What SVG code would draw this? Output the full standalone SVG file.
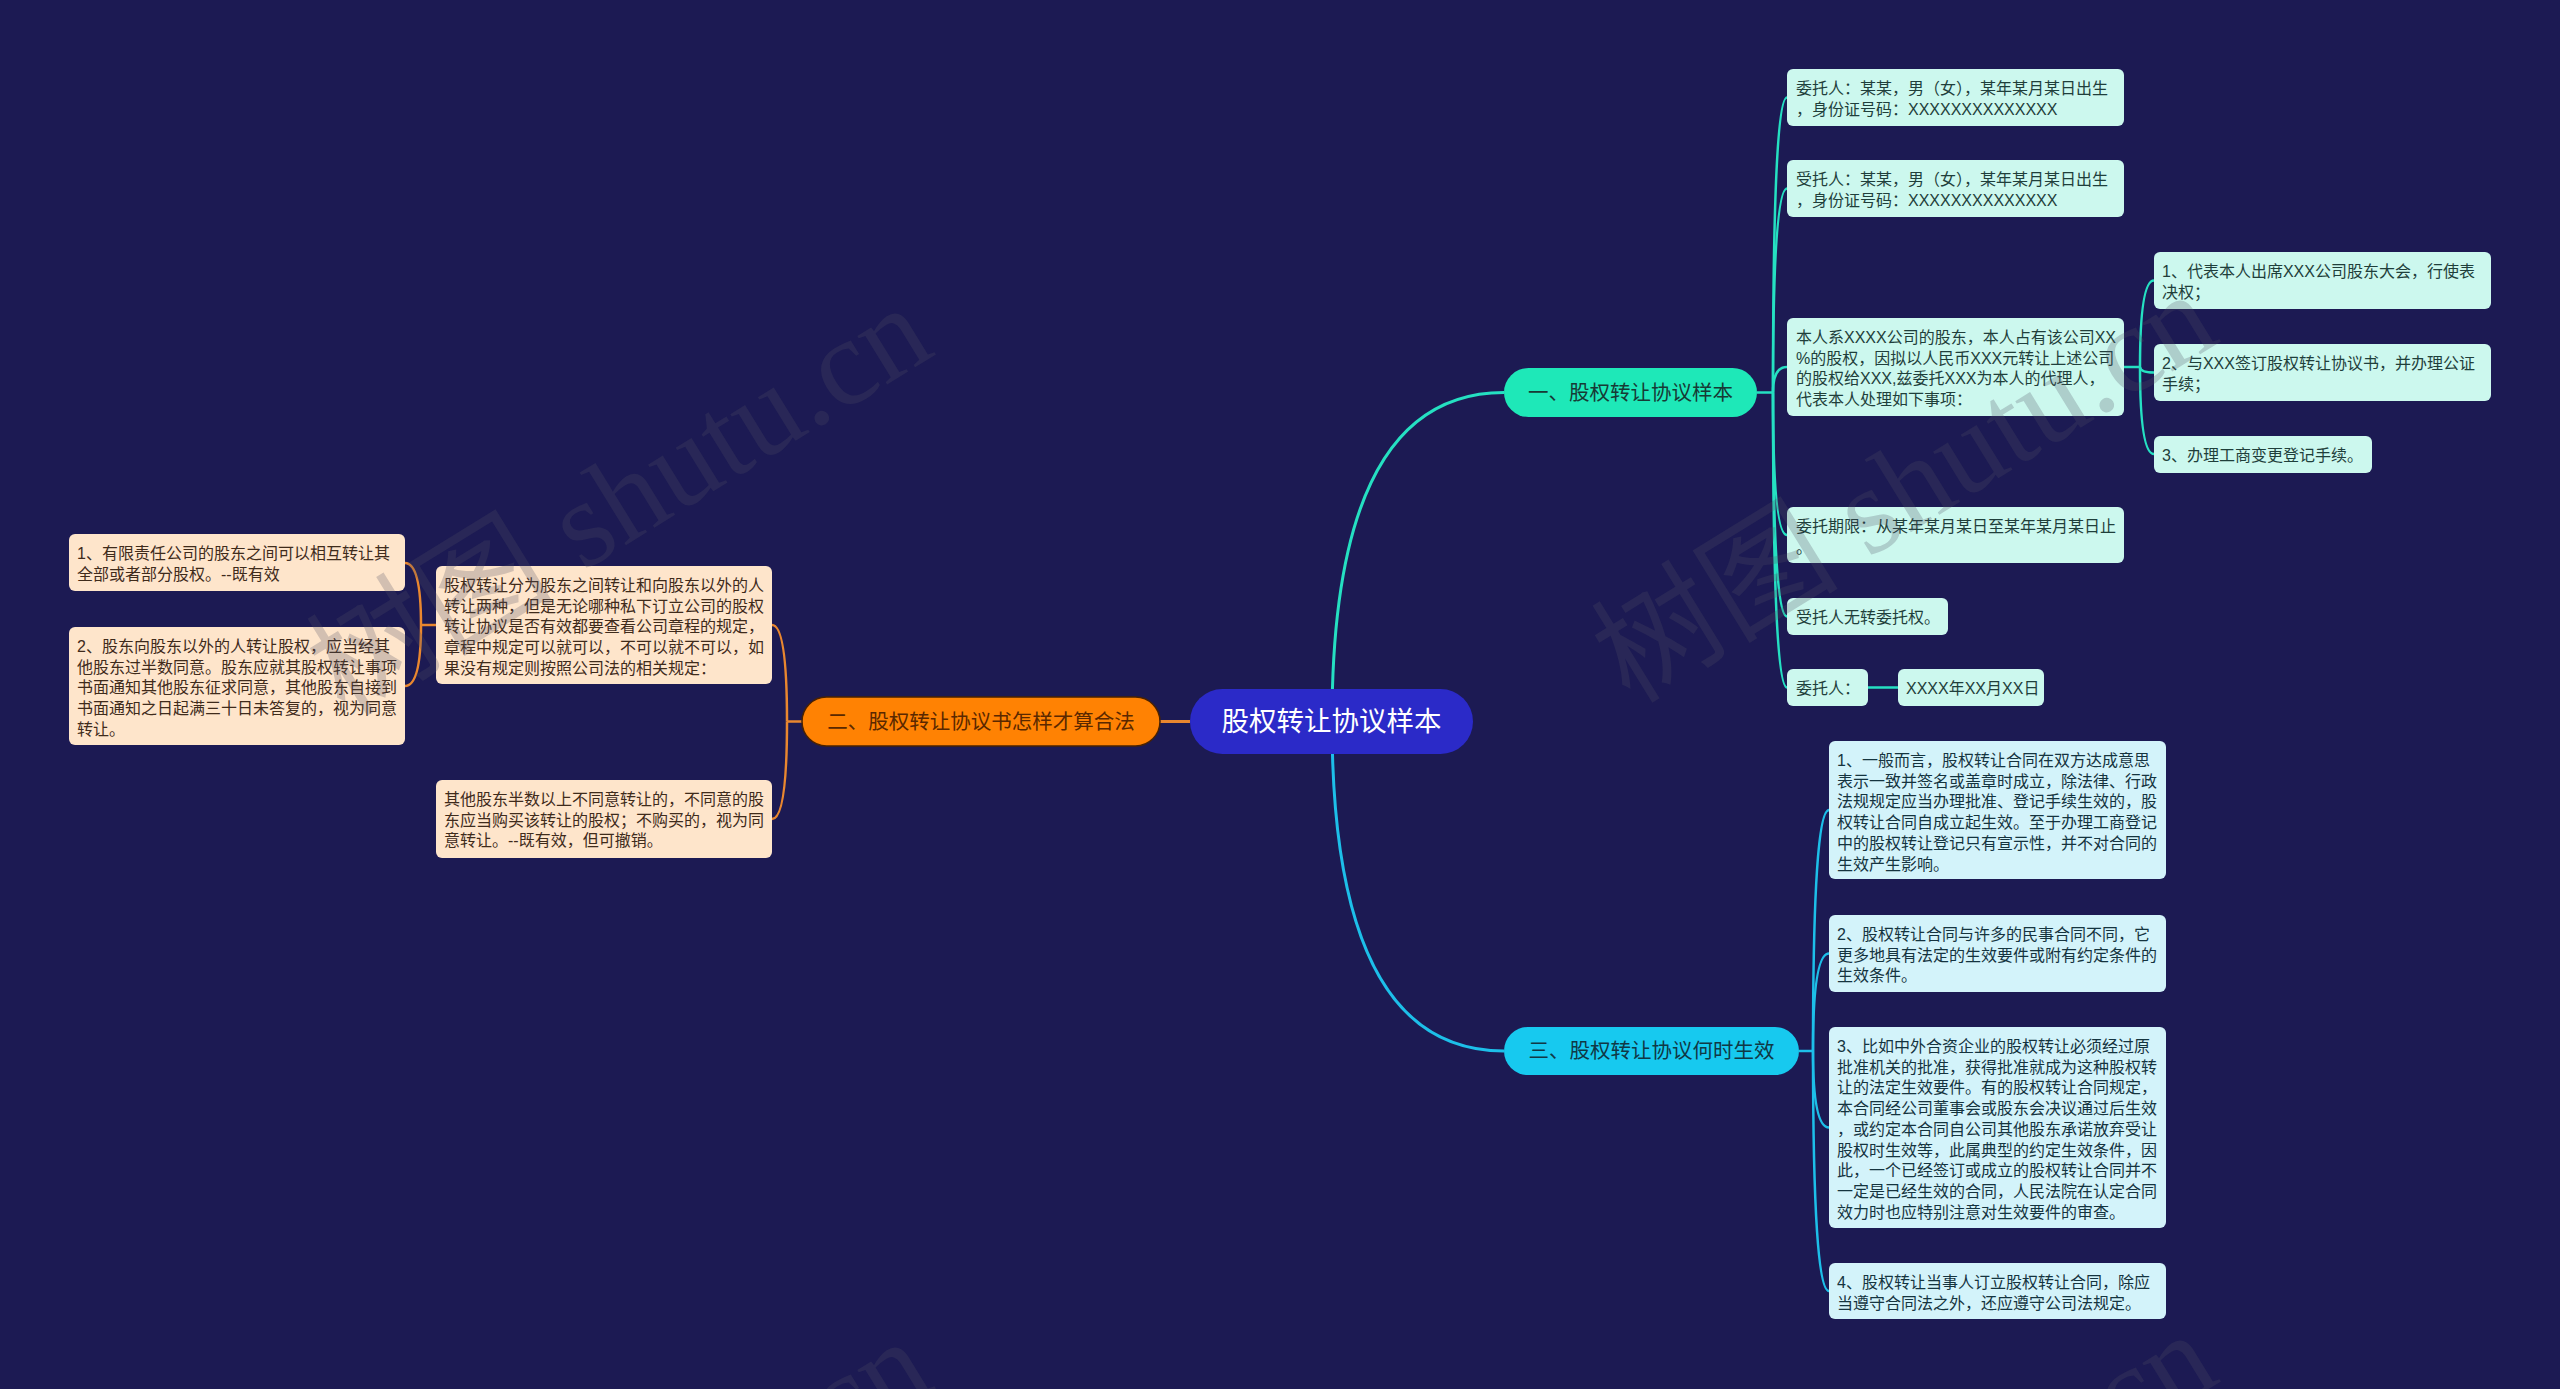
<svg xmlns="http://www.w3.org/2000/svg" width="2560" height="1389" viewBox="0 0 2560 1389">
<style>
.t{font-family:"Liberation Sans","Noto Sans CJK SC",sans-serif;font-size:16px}
.lg{fill:#ccf8ee}.lgt{fill:#1f3f3b}
.lc{fill:#d3f3fa}.lct{fill:#15343f}
.lo{fill:#fee5cb}.lot{fill:#3f2b1b}
.c1{fill:none;stroke:#25e0c2;stroke-width:2.5}
.c3{fill:none;stroke:#1dbfe9;stroke-width:2.5}
.c2{fill:none;stroke:#e9872f;stroke-width:2.5}
.b{font-family:"Liberation Sans","Noto Sans CJK SC",sans-serif;font-size:20.5px;text-anchor:middle}
.wm{font-family:"Liberation Serif","Noto Sans CJK SC",serif;font-size:124px;fill:#505062;fill-opacity:0.25}
</style>
<rect width="2560" height="1389" fill="#1c1a53"/>
<g id="connectors">
<path class="c1" style="stroke-width:3" d="M1332,721.5 Q1332,392.5 1504,392.5"/>
<path class="c3" style="stroke-width:3" d="M1332,721.5 Q1332,1051 1504,1051"/>
<path class="c2" style="stroke-width:3" d="M1190,721.5 H1160"/>
<path class="c1" d="M1757,392.5 H1773"/>
<path class="c1" d="M1773,392.5 Q1773,97.5 1787,97.5"/>
<path class="c1" d="M1773,392.5 Q1773,188.5 1787,188.5"/>
<path class="c1" d="M1773,392.5 Q1773,367 1787,367"/>
<path class="c1" d="M1773,392.5 Q1773,535 1787,535"/>
<path class="c1" d="M1773,392.5 Q1773,616.5 1787,616.5"/>
<path class="c1" d="M1773,392.5 Q1773,687.5 1787,687.5"/>
<path class="c1" d="M2124,367 H2140"/>
<path class="c1" d="M2140,367 Q2140,280.5 2154,280.5"/>
<path class="c1" d="M2140,367 Q2140,372.5 2154,372.5"/>
<path class="c1" d="M2140,367 Q2140,454 2154,454"/>
<path class="c1" d="M1868,687.5 H1898"/>
<path class="c3" d="M1799,1051 H1813"/>
<path class="c3" d="M1813,1051 Q1813,810 1829,810"/>
<path class="c3" d="M1813,1051 Q1813,953.5 1829,953.5"/>
<path class="c3" d="M1813,1051 Q1813,1127.5 1829,1127.5"/>
<path class="c3" d="M1813,1051 Q1813,1291 1829,1291"/>
<path class="c2" d="M802,721.5 H787"/>
<path class="c2" d="M787,721.5 Q787,625 772,625"/>
<path class="c2" d="M787,721.5 Q787,819 772,819"/>
<path class="c2" d="M436,625 H421"/>
<path class="c2" d="M421,625 Q421,563 405,563"/>
<path class="c2" d="M421,625 Q421,686 405,686"/>
</g>
<g id="root">
<rect x="1190" y="689" width="283" height="65" rx="32.5" fill="#2b2ac8"/>
<text x="1331.5" y="731" style="font-family:'Noto Sans CJK SC',sans-serif;font-size:27.5px;text-anchor:middle" fill="#ffffff">股权转让协议样本</text>
</g>
<g id="branch1">
<rect x="1504" y="368" width="253" height="49" rx="24.5" fill="#1ee8b8"/>
<text class="b" x="1630.5" y="399.5" fill="#173a35">一、股权转让协议样本</text>
</g>
<g id="branch2">
<rect x="802" y="697" width="358" height="49" rx="24.5" fill="#ff8203" stroke="#4a2200" stroke-width="1.5"/>
<text class="b" x="981" y="728.5" fill="#5a2800">二、股权转让协议书怎样才算合法</text>
</g>
<g id="branch3">
<rect x="1504" y="1027" width="295" height="48" rx="24" fill="#17c9ef"/>
<text class="b" x="1651.5" y="1058" fill="#103845">三、股权转让协议何时生效</text>
</g>
<g id="r1">
<rect class="lg" x="1787" y="69" width="337" height="57" rx="6"/>
<text class="t lgt"><tspan x="1796" y="94">委托人：某某，男（女），某年某月某日出生</tspan><tspan x="1796" y="114.7">，身份证号码：XXXXXXXXXXXXXX</tspan></text>
</g>
<g id="r2">
<rect class="lg" x="1787" y="160" width="337" height="57" rx="6"/>
<text class="t lgt"><tspan x="1796" y="185">受托人：某某，男（女），某年某月某日出生</tspan><tspan x="1796" y="205.7">，身份证号码：XXXXXXXXXXXXXX</tspan></text>
</g>
<g id="r3">
<rect class="lg" x="1787" y="318" width="337" height="98" rx="6"/>
<text class="t lgt"><tspan x="1796" y="343">本人系XXXX公司的股东，本人占有该公司XX</tspan><tspan x="1796" y="363.7">%的股权，因拟以人民币XXX元转让上述公司</tspan><tspan x="1796" y="384.4">的股权给XXX,兹委托XXX为本人的代理人，</tspan><tspan x="1796" y="405.1">代表本人处理如下事项：</tspan></text>
</g>
<g id="r3a">
<rect class="lg" x="2154" y="252" width="337" height="57" rx="6"/>
<text class="t lgt"><tspan x="2162" y="277">1、代表本人出席XXX公司股东大会，行使表</tspan><tspan x="2162" y="297.7">决权；</tspan></text>
</g>
<g id="r3b">
<rect class="lg" x="2154" y="344" width="337" height="57" rx="6"/>
<text class="t lgt"><tspan x="2162" y="369">2、与XXX签订股权转让协议书，并办理公证</tspan><tspan x="2162" y="389.7">手续；</tspan></text>
</g>
<g id="r3c">
<rect class="lg" x="2154" y="436" width="218" height="37" rx="6"/>
<text class="t lgt" x="2162" y="461">3、办理工商变更登记手续。</text>
</g>
<g id="r4">
<rect class="lg" x="1787" y="507" width="337" height="56" rx="6"/>
<text class="t lgt"><tspan x="1796" y="532">委托期限：从某年某月某日至某年某月某日止</tspan><tspan x="1796" y="552.7">。</tspan></text>
</g>
<g id="r5">
<rect class="lg" x="1787" y="598" width="161" height="37" rx="6"/>
<text class="t lgt" x="1796" y="623">受托人无转委托权。</text>
</g>
<g id="r6">
<rect class="lg" x="1787" y="669" width="81" height="37" rx="6"/>
<text class="t lgt" x="1796" y="694">委托人：</text>
</g>
<g id="r6a">
<rect class="lg" x="1898" y="669" width="146" height="37" rx="6"/>
<text class="t lgt" x="1906" y="694">XXXX年XX月XX日</text>
</g>
<g id="t1">
<rect class="lc" x="1829" y="741" width="337" height="138" rx="6"/>
<text class="t lct"><tspan x="1837" y="766">1、一般而言，股权转让合同在双方达成意思</tspan><tspan x="1837" y="786.7">表示一致并签名或盖章时成立，除法律、行政</tspan><tspan x="1837" y="807.4">法规规定应当办理批准、登记手续生效的，股</tspan><tspan x="1837" y="828.1">权转让合同自成立起生效。至于办理工商登记</tspan><tspan x="1837" y="848.8">中的股权转让登记只有宣示性，并不对合同的</tspan><tspan x="1837" y="869.5">生效产生影响。</tspan></text>
</g>
<g id="t2">
<rect class="lc" x="1829" y="915" width="337" height="77" rx="6"/>
<text class="t lct"><tspan x="1837" y="940">2、股权转让合同与许多的民事合同不同，它</tspan><tspan x="1837" y="960.7">更多地具有法定的生效要件或附有约定条件的</tspan><tspan x="1837" y="981.4">生效条件。</tspan></text>
</g>
<g id="t3">
<rect class="lc" x="1829" y="1027" width="337" height="201" rx="6"/>
<text class="t lct"><tspan x="1837" y="1052">3、比如中外合资企业的股权转让必须经过原</tspan><tspan x="1837" y="1072.7">批准机关的批准，获得批准就成为这种股权转</tspan><tspan x="1837" y="1093.4">让的法定生效要件。有的股权转让合同规定，</tspan><tspan x="1837" y="1114.1">本合同经公司董事会或股东会决议通过后生效</tspan><tspan x="1837" y="1134.8">，或约定本合同自公司其他股东承诺放弃受让</tspan><tspan x="1837" y="1155.5">股权时生效等，此属典型的约定生效条件，因</tspan><tspan x="1837" y="1176.2">此，一个已经签订或成立的股权转让合同并不</tspan><tspan x="1837" y="1196.9">一定是已经生效的合同，人民法院在认定合同</tspan><tspan x="1837" y="1217.6">效力时也应特别注意对生效要件的审查。</tspan></text>
</g>
<g id="t4">
<rect class="lc" x="1829" y="1263" width="337" height="56" rx="6"/>
<text class="t lct"><tspan x="1837" y="1288">4、股权转让当事人订立股权转让合同，除应</tspan><tspan x="1837" y="1308.7">当遵守合同法之外，还应遵守公司法规定。</tspan></text>
</g>
<g id="lp">
<rect class="lo" x="436" y="566" width="336" height="118" rx="6"/>
<text class="t lot"><tspan x="444" y="591">股权转让分为股东之间转让和向股东以外的人</tspan><tspan x="444" y="611.7">转让两种，但是无论哪种私下订立公司的股权</tspan><tspan x="444" y="632.4">转让协议是否有效都要查看公司章程的规定，</tspan><tspan x="444" y="653.1">章程中规定可以就可以，不可以就不可以，如</tspan><tspan x="444" y="673.8">果没有规定则按照公司法的相关规定：</tspan></text>
</g>
<g id="l1">
<rect class="lo" x="69" y="534" width="336" height="57" rx="6"/>
<text class="t lot"><tspan x="77" y="559">1、有限责任公司的股东之间可以相互转让其</tspan><tspan x="77" y="579.7">全部或者部分股权。--既有效</tspan></text>
</g>
<g id="l2">
<rect class="lo" x="69" y="627" width="336" height="118" rx="6"/>
<text class="t lot"><tspan x="77" y="652">2、股东向股东以外的人转让股权，应当经其</tspan><tspan x="77" y="672.7">他股东过半数同意。股东应就其股权转让事项</tspan><tspan x="77" y="693.4">书面通知其他股东征求同意，其他股东自接到</tspan><tspan x="77" y="714.1">书面通知之日起满三十日未答复的，视为同意</tspan><tspan x="77" y="734.8">转让。</tspan></text>
</g>
<g id="lb">
<rect class="lo" x="436" y="780" width="336" height="78" rx="6"/>
<text class="t lot"><tspan x="444" y="805">其他股东半数以上不同意转让的，不同意的股</tspan><tspan x="444" y="825.7">东应当购买该转让的股权；不购买的，视为同</tspan><tspan x="444" y="846.4">意转让。--既有效，但可撤销。</tspan></text>
</g>
<g id="watermarks">
<text class="wm" x="345" y="718" transform="rotate(-31.6 345 718)">树图 shutu.cn</text>
<text class="wm" x="1630" y="705" transform="rotate(-31.6 1630 705)">树图 shutu.cn</text>
<text class="wm" x="345" y="1752" transform="rotate(-31.6 345 1752)">树图 shutu.cn</text>
<text class="wm" x="1630" y="1745" transform="rotate(-31.6 1630 1745)">树图 shutu.cn</text>
</g>
</svg>
